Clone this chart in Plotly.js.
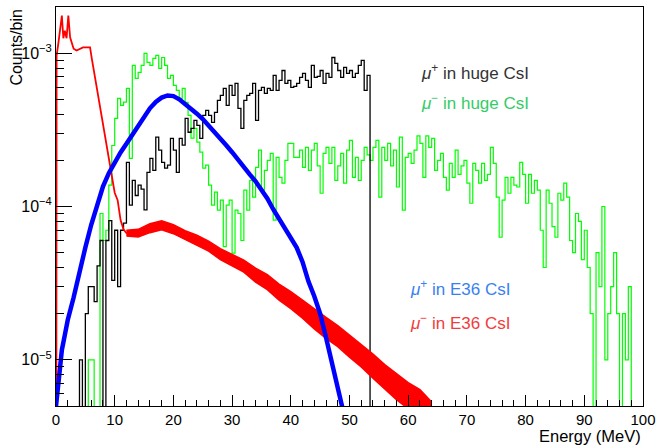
<!DOCTYPE html>
<html>
<head>
<meta charset="utf-8">
<script src="https://cdn.plot.ly/plotly-3.0.1.min.js"></script>
<style>html,body{margin:0;padding:0;background:#fff;}#chart{width:656px;height:447px;}</style>
</head>
<body>
<div id="chart"></div>
<script>
// ---------------- data ----------------
// mu+ in huge CsI : 0.5 MeV bins starting at 3.5 MeV (counts/bin)
const blackStart = 3.5;
const binWidth = 0.5;
const blackVals = [
  0, 1.0e-5, 0, 2.0e-5, 3.0e-5, 3.0e-5, 2.4e-5, 4.1e-5, 6.0e-5, 0,
  6.0e-5, 8.1e-5, 3.3e-5, 7.0e-5, 3.0e-5, 7.0e-5, 7.8e-5, 1.94e-4, 1.02e-4, 1.48e-4,
  1.18e-4, 1.38e-4, 1.3e-4, 9.5e-5, 1.67e-4, 2.06e-4, 1.72e-4, 2.83e-4, 2.33e-4, 1.94e-4,
  1.78e-4, 1.86e-4, 2.78e-4, 2.33e-4, 1.67e-4, 2.78e-4, 2.51e-4, 3.76e-4, 3.05e-4, 3.23e-4,
  3.65e-4, 3.38e-4, 2.78e-4, 3.93e-4, 4.23e-4, 3.93e-4, 3.54e-4, 4.11e-4, 4.92e-4, 5.30e-4,
  5.89e-4, 4.57e-4, 6.16e-4, 5.30e-4, 6.35e-4, 4.37e-4, 3.23e-4, 4.92e-4, 5.30e-4, 5.47e-4,
  6.35e-4, 3.65e-4, 5.72e-4, 5.98e-4, 5.47e-4, 5.89e-4, 5.72e-4, 7.16e-4, 5.72e-4, 6.64e-4,
  7.71e-4, 6.35e-4, 6.64e-4, 5.98e-4, 6.07e-4, 6.35e-4, 6.95e-4, 7.38e-4, 6.64e-4, 5.98e-4,
  8.32e-4, 6.95e-4, 7.05e-4, 7.71e-4, 6.35e-4, 7.38e-4, 6.95e-4, 9.37e-4, 8.57e-4, 7.71e-4,
  6.95e-4, 8.07e-4, 7.38e-4, 7.71e-4, 6.95e-4, 7.38e-4, 8.32e-4, 8.96e-4, 5.72e-4, 7.16e-4,
  0
];

// mu- in huge CsI : 0.5 MeV bins starting at 5.0 MeV
const greenStart = 5.0;
const greenVals = [
  0, 1e-5, 1e-5, 0, 0, 9.0e-5, 6.0e-5, 7.0e-5, 1.38e-4, 2.5e-4,
  3.76e-4, 5.07e-4, 4.57e-4, 4.8e-4, 5.89e-4, 2.06e-4, 8.32e-4, 6.84e-4, 7.5e-4, 8.32e-4,
  9.96e-4, 8.7e-4, 8.32e-4, 9.24e-4, 9.66e-4, 7.95e-4, 9.37e-4, 8.32e-4, 6.84e-4, 7.16e-4,
  6.16e-4, 5.72e-4, 5.07e-4, 5.89e-4, 4.78e-4, 3.93e-4, 2.79e-4, 3.23e-4, 2.63e-4, 2.26e-4,
  1.78e-4, 1.86e-4, 1.38e-4, 1.02e-4, 1.24e-4, 9.46e-5, 1.1e-4, 5.47e-5, 1.02e-4, 1.1e-4,
  4.97e-5, 9.46e-5, 9.0e-5, 6.0e-5, 1.28e-4, 9.46e-5, 1.48e-4, 1.15e-4, 1.8e-4, 2.33e-4,
  1.28e-4, 1.72e-4, 2.0e-4, 2.22e-4, 8.15e-5, 2.09e-4, 1.55e-4, 1.42e-4, 2.0e-4, 2.58e-4,
  2.58e-4, 2.09e-4, 2.09e-4, 2.33e-4, 1.8e-4, 2.43e-4, 1.72e-4, 2.33e-4, 2.58e-4, 1.84e-4,
  1.22e-4, 2.22e-4, 2.43e-4, 1.91e-4, 2.43e-4, 1.48e-4, 1.84e-4, 2.22e-4, 1.42e-4, 2.33e-4,
  2.70e-4, 1.55e-4, 2.09e-4, 1.48e-4, 2.0e-4, 2.43e-4, 2.17e-4, 2.0e-4, 2.43e-4, 2.70e-4,
  1.15e-4, 2.43e-4, 2.0e-4, 2.58e-4, 1.84e-4, 2.33e-4, 1.34e-4, 2.83e-4, 9.46e-5, 2.09e-4,
  2.22e-4, 1.91e-4, 2.33e-4, 2.89e-4, 2.58e-4, 1.55e-4, 2.89e-4, 2.43e-4, 2.78e-4, 1.72e-4,
  2.0e-4, 2.22e-4, 1.55e-4, 1.28e-4, 1.91e-4, 1.55e-4, 2.33e-4, 1.62e-4, 1.84e-4, 2.0e-4,
  1.42e-4, 1.05e-4, 1.91e-4, 1.72e-4, 1.42e-4, 1.91e-4, 1.48e-4, 1.62e-4, 2.43e-4, 1.91e-4,
  1.15e-4, 6.3e-5, 1.1e-4, 1.55e-4, 1.22e-4, 1.55e-4, 1.38e-4, 1.34e-4, 1.94e-4, 1.62e-4,
  1.05e-4, 1.62e-4, 1.22e-4, 1.48e-4, 1.28e-4, 7.0e-5, 4.0e-5, 1.28e-4, 1.05e-4, 7.4e-5,
  6.3e-5, 1.22e-4, 1.1e-4, 1.42e-4, 1.15e-4, 6.0e-5, 5.0e-5, 9.0e-5, 8.0e-5, 4.5e-5,
  7.0e-5, 4.0e-5, 2.0e-5, 0, 5.0e-5, 3.0e-5, 1.0e-4, 1.0e-5, 2.0e-5, 3.0e-5,
  5.0e-5, 2.0e-5, 0, 2.0e-5, 1.0e-5, 3.0e-5, 0
];

// mu- in E36 CsI : low-energy part (energy, counts/bin)
const redX = [0, 0, 0.1, 0.4, 0.7, 1.0, 1.25, 1.5, 1.8, 2.1, 2.4, 2.7, 3.0, 3.5, 4.1, 4.6, 5.2, 5.8, 6.1, 7, 8, 9, 10, 10.5, 11, 11.5, 12, 12.5];
const redY = [0, 8.4e-4, 9.65e-4, 1.16e-3, 1.40e-3, 1.76e-3, 1.25e-3, 1.40e-3, 1.25e-3, 1.76e-3, 1.27e-3, 1.15e-3, 1.07e-3, 1.04e-3, 1.07e-3, 1.09e-3, 1.09e-3, 1.09e-3, 9.2e-4, 5.7e-4, 3.4e-4, 2.06e-4, 1.23e-4, 1.1e-4, 8.15e-5, 7.1e-5, 6.7e-5, 6.5e-5];
// mu- in E36 CsI : noisy high-energy part, upper / lower edge of the dense band
const redBandX  = [12, 14, 16, 18, 20, 22, 24, 26, 28, 30, 32, 34, 36, 38, 40, 42, 44, 46, 48, 50, 52, 54, 56, 58, 60, 62, 64];
const redBandHi = [7.01e-5, 7.1e-5, 7.73e-5, 8.08e-5, 7.61e-5, 6.96e-5, 6.5e-5, 5.94e-5, 5.31e-5, 4.86e-5, 4.47e-5, 3.96e-5, 3.6e-5, 3.12e-5, 2.79e-5, 2.45e-5, 2.14e-5, 1.89e-5, 1.67e-5, 1.45e-5, 1.25e-5, 1.09e-5, 9.3e-6, 8.1e-6, 7.1e-6, 6.4e-6, 5.3e-6];
const redBandLo = [6.41e-5, 6.33e-5, 6.75e-5, 7.06e-5, 6.65e-5, 6.08e-5, 5.6e-5, 5.12e-5, 4.5e-5, 4.12e-5, 3.73e-5, 3.21e-5, 2.87e-5, 2.45e-5, 2.16e-5, 1.87e-5, 1.59e-5, 1.38e-5, 1.22e-5, 1.04e-5, 9.0e-6, 7.6e-6, 6.5e-6, 5.5e-6, 4.8e-6, 4.2e-6, 3.5e-6];

// mu+ in E36 CsI
const blueX = [0, 0.5, 1, 1.5, 2, 3, 4, 5, 6, 7, 8, 9, 10, 11, 12, 13, 14, 15, 16, 17, 18, 19, 20, 21, 22, 23, 24, 25, 26, 27, 28, 29, 30, 31, 32, 33, 34, 35, 36, 37, 38, 39, 40, 41, 42, 43, 44, 45, 46, 47, 48, 49];
const blueY = [5.0e-6, 8.0e-6, 1.16e-5, 1.45e-5, 1.82e-5, 2.55e-5, 3.8e-5, 5.4e-5, 7.6e-5, 1.04e-4, 1.35e-4, 1.65e-4, 1.95e-4, 2.25e-4, 2.57e-4, 2.95e-4, 3.39e-4, 3.89e-4, 4.37e-4, 4.81e-4, 5.13e-4, 5.3e-4, 5.25e-4, 5.0e-4, 4.68e-4, 4.37e-4, 4.03e-4, 3.72e-4, 3.39e-4, 3.09e-4, 2.79e-4, 2.51e-4, 2.26e-4, 2.04e-4, 1.82e-4, 1.62e-4, 1.46e-4, 1.3e-4, 1.13e-4, 9.6e-5, 8.3e-5, 7.3e-5, 6.4e-5, 5.4e-5, 4.35e-5, 3.25e-5, 2.6e-5, 2.0e-5, 1.4e-5, 9.8e-6, 6.9e-6, 4.5e-6];

const yTickVals = [1e-5, 1e-4, 1e-3];
const yTickText = ['10<sup>\u22125</sup>', '10<sup>\u22124</sup>', '10<sup>\u22123</sup>'];
const yMinorVals = [6e-6, 7e-6, 8e-6, 9e-6, 2e-5, 3e-5, 4e-5, 5e-5, 6e-5, 7e-5, 8e-5, 9e-5, 2e-4, 3e-4, 4e-4, 5e-4, 6e-4, 7e-4, 8e-4, 9e-4, 2e-3];

const labels = [
  {text: '<i>\u03bc</i><sup>+</sup> in huge CsI', color: '#333333', x: 0.619, y: 0.838},
  {text: '<i>\u03bc</i><sup>\u2212</sup> in huge CsI', color: '#33cc66', x: 0.619, y: 0.763},
  {text: '<i>\u03bc</i><sup>+</sup> in E36 CsI', color: '#3a7ff0', x: 0.600, y: 0.295},
  {text: '<i>\u03bc</i><sup>\u2212</sup> in E36 CsI', color: '#f03c3c', x: 0.600, y: 0.211}
];

// ---------------- drawing ----------------
const FLOOR = 1e-9; // empty bins drop to the bottom of the frame, as in the original
function steps(start, w, vals) {
  const x = [], y = [];
  vals.forEach((v, i) => { x.push(start + i * w); y.push(v > 0 ? v : FLOOR); });
  x.push(start + vals.length * w); y.push(y[y.length - 1]);
  return {x, y};
}
const blk = steps(blackStart, binWidth, blackVals);
const grn = steps(greenStart, binWidth, greenVals);
const redYd = redY.map(v => v > 0 ? v : FLOOR);

const FONT = 'Liberation Sans, Arial, Helvetica, sans-serif';

const traces = [
  {x: grn.x, y: grn.y, mode: 'lines', line: {shape: 'hv', color: '#00ff00', width: 1.2}, hoverinfo: 'skip'},
  {x: blk.x, y: blk.y, mode: 'lines', line: {shape: 'hv', color: '#000000', width: 1.3}, hoverinfo: 'skip'},
  {x: redBandX, y: redBandLo, mode: 'lines', line: {color: '#ff0000', width: 1.5}, hoverinfo: 'skip'},
  {x: redBandX, y: redBandHi, mode: 'lines', line: {color: '#ff0000', width: 1.5}, fill: 'tonexty', fillcolor: '#ff0000', hoverinfo: 'skip'},
  {x: redX, y: redYd, mode: 'lines', line: {color: '#ff0000', width: 1.8}, hoverinfo: 'skip'},
  {x: blueX, y: blueY, mode: 'lines', line: {color: '#0000ff', width: 4.5}, hoverinfo: 'skip'}
];

const layout = {
  width: 656, height: 447,
  margin: {l: 56, r: 13, t: 7, b: 41},
  paper_bgcolor: '#ffffff', plot_bgcolor: '#ffffff',
  showlegend: false,
  font: {family: FONT, color: '#000000'},
  xaxis: {
    range: [0, 100], tick0: 0, dtick: 10,
    showline: true, linecolor: '#000000', linewidth: 1, mirror: true,
    ticks: 'inside', ticklen: 11, tickwidth: 1, tickcolor: '#000000',
    minor: {ticks: 'inside', dtick: 2, ticklen: 6, tickwidth: 1, tickcolor: '#000000'},
    showgrid: false, zeroline: false,
    tickfont: {family: FONT, size: 15, color: '#000000'}
  },
  yaxis: {
    type: 'log', range: [Math.log10(5e-6), Math.log10(2e-3)],
    tickmode: 'array', tickvals: yTickVals, ticktext: yTickText,
    showline: true, linecolor: '#000000', linewidth: 1, mirror: true,
    ticks: 'inside', ticklen: 16, tickwidth: 1, tickcolor: '#000000',
    minor: {ticks: 'inside', tickmode: 'array', tickvals: yMinorVals, ticklen: 8, tickwidth: 1, tickcolor: '#000000'},
    showgrid: false, zeroline: false,
    tickfont: {family: FONT, size: 16, color: '#000000'}
  },
  annotations: [
    {text: 'Counts/bin', xref: 'paper', yref: 'paper', x: -0.068, y: 1.0, xanchor: 'center', yanchor: 'top',
     textangle: -90, showarrow: false, font: {family: FONT, size: 16, color: '#000000'}},
    {text: 'Energy (MeV)', xref: 'paper', yref: 'paper', x: 1.0, y: -0.076, xanchor: 'right', yanchor: 'middle',
     showarrow: false, font: {family: FONT, size: 16.5, color: '#000000'}}
  ].concat(labels.map(l => ({
    text: l.text, xref: 'paper', yref: 'paper', x: l.x, y: l.y, xanchor: 'left', yanchor: 'middle',
    showarrow: false, font: {family: FONT, size: 17, color: l.color}
  })))
};

Plotly.newPlot('chart', traces, layout, {staticPlot: true, displayModeBar: false});
</script>
</body>
</html>
